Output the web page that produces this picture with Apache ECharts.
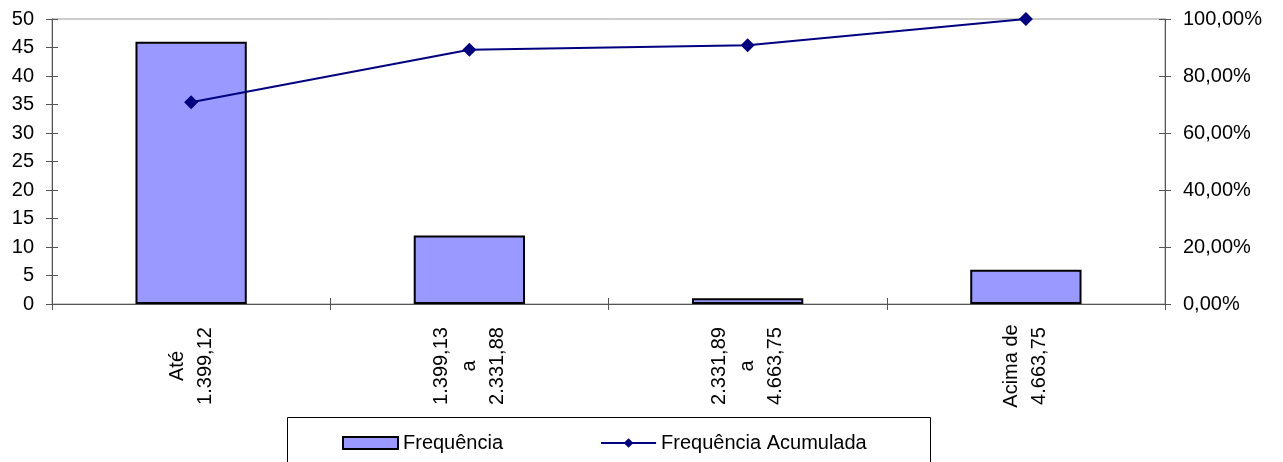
<!DOCTYPE html>
<html><head><meta charset="utf-8">
<script src="https://cdn.jsdelivr.net/npm/echarts@6/dist/echarts.min.js"></script>
<style>html,body{margin:0;padding:0;background:#fff}#c{width:1283px;height:462px}</style>
</head><body><div id="c"></div>
<script>
const categories = ['Até\n1.399,12', '1.399,13\na\n2.331,88', '2.331,89\na\n4.663,75', 'Acima de\n4.663,75'];
const frequencia = [46, 12, 1, 6];
const acumulada = [70.77, 89.23, 90.77, 100];
const seriesNames = ['Frequência', 'Frequência Acumulada'];

const FONT = '"Liberation Sans", Arial, sans-serif';
const FS = 20;
const chart = echarts.init(document.getElementById('c'), null, {renderer: 'canvas'});
const pct = v => v.toFixed(2).replace('.', ',') + '%';
chart.setOption({
  animation: false,
  textStyle: {fontFamily: FONT},
  grid: {left: 52, right: 118, top: 19, bottom: 158, show: true, borderColor: '#999', borderWidth: 1},
  legend: {
    left: 337, top: 428, itemWidth: 55, itemHeight: 12, itemGap: 97,
    textStyle: {fontFamily: FONT, fontSize: FS, color: '#000'},
    data: [
      {name: seriesNames[0], icon: 'rect'},
      {name: seriesNames[1]}
    ]
  },
  graphic: [{type: 'rect', shape: {x: 287.5, y: 417.5, width: 643, height: 60}, style: {fill: 'none', stroke: '#000', lineWidth: 1}, silent: true}],
  xAxis: [{
    type: 'category', data: categories,
    axisLine: {lineStyle: {color: '#555', width: 1}},
    axisTick: {show: true, length: 6, lineStyle: {color: '#555'}},
    axisLabel: {rotate: 90, align: 'center', verticalAlign: 'middle', margin: 62, lineHeight: 28,
      fontFamily: FONT, fontSize: FS, color: '#000', interval: 0}
  }, {
    type: 'category', data: categories, position: 'bottom',
    axisLine: {show: false}, axisTick: {show: true, inside: true, length: 6, lineStyle: {color: '#555'}},
    axisLabel: {show: false}
  }],
  yAxis: [{
    type: 'value', min: 0, max: 50, interval: 5, position: 'left',
    axisLine: {show: true, lineStyle: {color: '#555'}},
    axisTick: {show: true, length: 6, lineStyle: {color: '#555'}},
    splitLine: {show: false},
    axisLabel: {margin: 18, fontFamily: FONT, fontSize: FS, color: '#000'}
  }, {
    type: 'value', min: 0, max: 100, interval: 20, position: 'right',
    axisLine: {show: true, lineStyle: {color: '#555'}},
    axisTick: {show: true, length: 6, lineStyle: {color: '#555'}},
    splitLine: {show: false},
    axisLabel: {margin: 18, fontFamily: FONT, fontSize: FS, color: '#000', formatter: pct}
  }, {
    type: 'value', min: 0, max: 50, interval: 5, position: 'left',
    axisLine: {show: false}, axisTick: {show: true, inside: true, length: 6, lineStyle: {color: '#555'}},
    splitLine: {show: false}, axisLabel: {show: false}
  }, {
    type: 'value', min: 0, max: 100, interval: 20, position: 'right',
    axisLine: {show: false}, axisTick: {show: true, inside: true, length: 6, lineStyle: {color: '#555'}},
    splitLine: {show: false}, axisLabel: {show: false}
  }],
  series: [{
    name: seriesNames[0], type: 'bar', data: frequencia, yAxisIndex: 0,
    barWidth: '40%',
    itemStyle: {color: '#9999FF', borderColor: '#000', borderWidth: 2}
  }, {
    name: seriesNames[1], type: 'line', data: acumulada, yAxisIndex: 1,
    symbol: 'diamond', symbolSize: 14,
    lineStyle: {color: '#000080', width: 2}, itemStyle: {color: '#000080'}
  }]
});
</script></body></html>
